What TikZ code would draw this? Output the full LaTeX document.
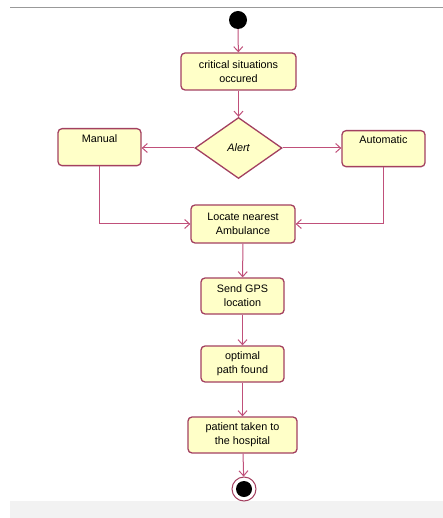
\documentclass[tikz,border=0pt]{standalone}
\usepackage{fontspec}
\setmainfont{Liberation Sans}
\usetikzlibrary{shapes.geometric,arrows.meta}
\definecolor{boxfill}{HTML}{FFFFC8}
\definecolor{boxline}{HTML}{A34060}
\definecolor{flowline}{HTML}{C0507A}
\tikzset{
  labelfont/.style={font=\fontsize{10.8}{14}\selectfont},
  actbox/.style={draw=boxline,fill=boxfill,line width=1.3pt,rounded corners=4pt,
    align=center,inner sep=0pt,labelfont},
  flow/.style={draw=flowline,line width=1pt,-{Straight Barb[length=5pt,width=9pt]}}
}
\begin{document}
\begin{tikzpicture}[x=1pt,y=-1pt]
\useasboundingbox (0,0) rectangle (443,518);
\draw [gray!80,line width=1pt] (10,8) -- (443,8);
\fill [gray!10] (10,501) rectangle (443,518);
% start and end
\node (start) [circle,fill=black,minimum size=18pt,inner sep=0pt] at (238,20) {};
\node (stop) [circle,draw=boxline,fill=white,line width=1pt,minimum size=24pt,inner sep=0pt] at (244,489) {};
\fill (stop.center) circle (8);
% activities
\node (crit) [actbox,minimum width=115pt,minimum height=37pt] at (238.5,71.5) {critical situations\\occured};
\node (alert) [diamond,draw=boxline,fill=boxfill,line width=1.3pt,aspect=1.45,inner sep=0pt,
  minimum width=87pt,minimum height=61pt,labelfont,font=\fontsize{10.8}{14}\selectfont\itshape] at (238.5,148) {Alert};
\node (manual) [actbox,minimum width=83pt,minimum height=37pt,anchor=north] at (99.5,128) {};
\node [labelfont] at (manual.north) [yshift=-11pt] {Manual};
\node (auto) [actbox,minimum width=83pt,minimum height=36pt,anchor=north] at (383.5,130) {};
\node [labelfont] at (auto.north) [yshift=-10pt] {Automatic};
\node (locate) [actbox,minimum width=104pt,minimum height=38pt] at (243,224) {Locate nearest\\Ambulance};
\node (gps) [actbox,minimum width=83pt,minimum height=36pt] at (242.5,296) {Send GPS\\location};
\node (path) [actbox,minimum width=83pt,minimum height=36pt] at (242.5,364) {optimal\\path found};
\node (patient) [actbox,minimum width=109pt,minimum height=36pt] at (242.5,435) {patient taken to\\the hospital};
% connectors
\draw [flow] (start) -- (crit);
\draw [flow] (crit) -- (alert);
\draw [flow] (alert.west) -- (manual.east |- alert.west);
\draw [flow] (alert.east) -- (auto.west |- alert.east);
\draw [flow] (manual.south) |- (locate.west);
\draw [flow] (auto.south) |- (locate.east);
\draw [flow] (locate) -- (gps);
\draw [flow] (gps) -- (path);
\draw [flow] (path) -- (patient);
\draw [flow] (patient) -- (stop);
\end{tikzpicture}
\end{document}
